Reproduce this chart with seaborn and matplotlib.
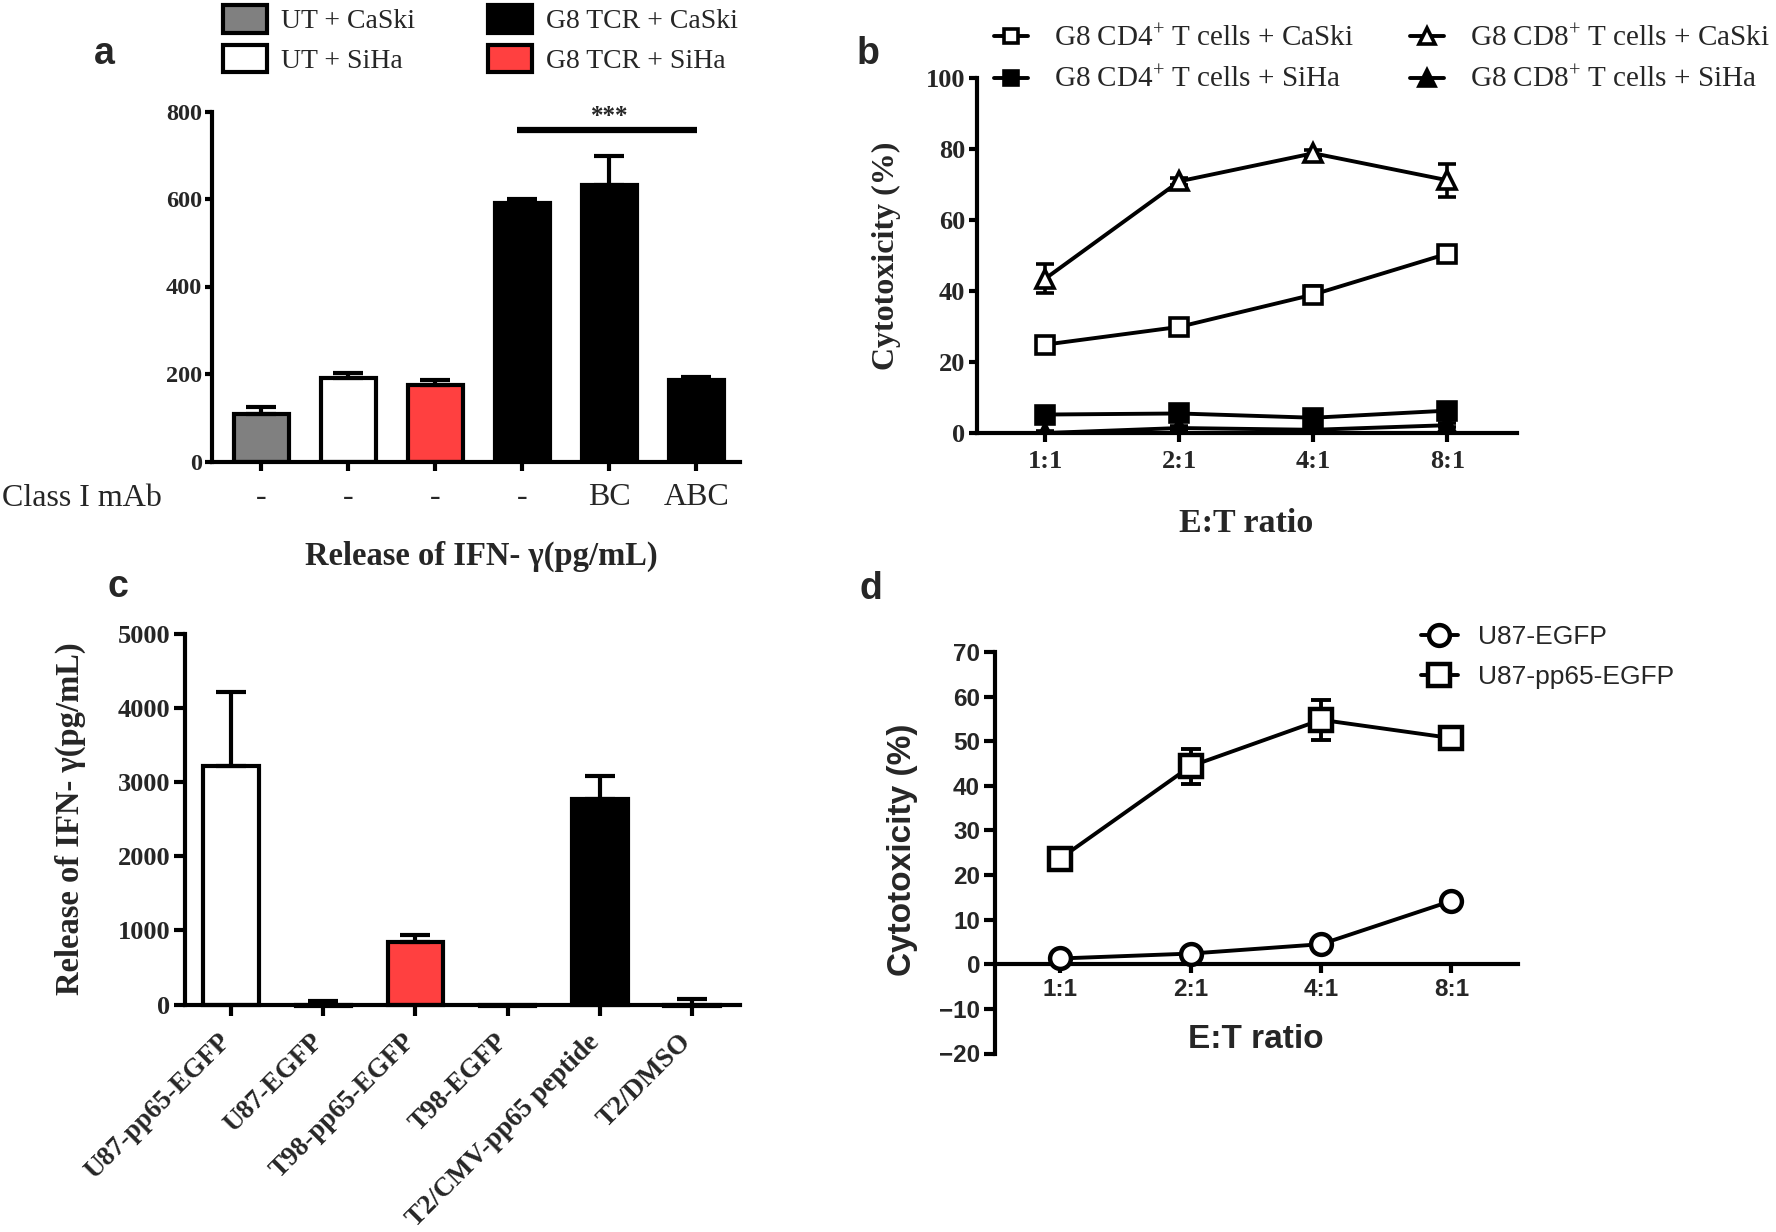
import numpy as np
import pandas as pd
import seaborn as sns
import matplotlib.pyplot as plt
from matplotlib.patches import Patch
from matplotlib.lines import Line2D

# ---------------- data ----------------
# panel a: IFN-gamma release (pg/mL)
a_groups = ["UT + CaSki", "UT + SiHa", "G8 TCR + SiHa", "G8 TCR + CaSki",
            "G8 TCR + CaSki (BC)", "G8 TCR + CaSki (ABC)"]
a_mab = ["-", "-", "-", "-", "BC", "ABC"]
a_mean = [108, 192, 176, 592, 633, 187]
a_err = [17, 10, 10, 8, 65, 6]
a_colors = ["#808080", "#FFFFFF", "#FF4040", "#000000", "#000000", "#000000"]

# panel b: cytotoxicity (%) vs E:T ratio
ratios = ["1:1", "2:1", "4:1", "8:1"]
cd4_caski = [24.9, 29.9, 39.0, 50.5]
cd4_caski_err = [2.0, 1.0, 2.5, 1.5]
cd4_siha = [5.2, 5.5, 4.3, 6.3]
cd4_siha_err = [0.8, 0.8, 0.8, 0.8]
cd8_caski = [43.5, 70.9, 78.8, 71.2]
cd8_caski_err = [4.0, 1.0, 1.0, 4.6]
cd8_siha = [0.0, 1.4, 0.9, 2.2]
cd8_siha_err = [0.5, 0.5, 0.5, 0.5]

# panel c: IFN-gamma release (pg/mL)
c_targets = ["U87-pp65-EGFP", "U87-EGFP", "T98-pp65-EGFP", "T98-EGFP",
             "T2/CMV-pp65 peptide", "T2/DMSO"]
c_mean = [3220, -20, 848, -25, 2770, -20]
c_err = [1000, 70, 85, 10, 320, 100]
c_colors = ["#FFFFFF", "#FFFFFF", "#FF4040", "#FF4040", "#000000", "#000000"]

# panel d: cytotoxicity (%) vs E:T ratio
u87_egfp = [1.3, 2.4, 4.5, 14.2]
u87_egfp_err = [0.5, 0.5, 0.8, 0.8]
u87_pp65 = [23.7, 44.4, 54.8, 50.7]
u87_pp65_err = [1.0, 3.9, 4.5, 1.2]

# ---------------- style ----------------
sns.set_theme(style="ticks")
SERIF = ["Liberation Serif", "DejaVu Serif"]
SANS = ["Liberation Sans", "DejaVu Sans"]
plt.rcParams["font.family"] = SERIF
plt.rcParams["mathtext.fontset"] = "custom"
plt.rcParams["mathtext.rm"] = "Liberation Serif"
plt.rcParams["mathtext.it"] = "Liberation Serif:italic"
plt.rcParams["mathtext.bf"] = "Liberation Serif:bold"
plt.rcParams["axes.linewidth"] = 3.0
plt.rcParams["axes.edgecolor"] = "black"

LW = 3.0
W, H = 1776, 1232
fig = plt.figure(figsize=(W / 100, H / 100), dpi=100)


def rect(left, right, top, bottom):
    return [left / W, 1 - bottom / H, (right - left) / W, (bottom - top) / H]


def style_axes(ax, ylen, xlen, ypad, xpad, ysize, xsize, family, xweight="bold"):
    sns.despine(ax=ax)
    ax.tick_params(axis="y", length=ylen, width=LW, pad=ypad, labelsize=ysize,
                   color="black", direction="out")
    ax.tick_params(axis="x", length=xlen, width=LW, pad=xpad, labelsize=xsize,
                   color="black", direction="out")
    for lab in ax.get_yticklabels():
        lab.set_fontweight("bold")
        lab.set_family(family)
    for lab in ax.get_xticklabels():
        lab.set_fontweight(xweight)
        lab.set_family(family)


# ---------------- panel a ----------------
ax_a = fig.add_axes(rect(211.5, 740, 111.5, 461.5))
dfa = pd.DataFrame({"group": a_groups, "value": a_mean})
sns.barplot(data=dfa, x="group", y="value", hue="group",
            palette=dict(zip(a_groups, a_colors)), legend=False, saturation=1,
            width=0.63, edgecolor="black", linewidth=LW, errorbar=None, ax=ax_a)
xa = np.arange(len(a_groups))
ax_a.errorbar(xa, a_mean, yerr=[np.zeros(len(xa)), a_err], fmt="none",
              ecolor="black", elinewidth=LW, capsize=11, capthick=LW, zorder=3)
ax_a.set_xlim(-0.57, 5.5)
ax_a.set_ylim(0, 800)
ax_a.set_yticks([0, 200, 400, 600, 800])
ax_a.set_xticks(xa)
ax_a.set_xticklabels(a_mab)
ax_a.set_ylabel("")
ax_a.set_xlabel("Release of IFN- γ(pg/mL)", fontsize=23.5, fontweight="bold")
ax_a.xaxis.label.set_va("center")
ax_a.xaxis.set_label_coords(0.51, -0.27)
style_axes(ax_a, 5, 6.5, 2, 9, 17.5, 23, SERIF, xweight="normal")
# significance bar
ax_a.plot([2.94, 5.01], [758, 758], color="black", lw=4.5, solid_capstyle="butt")
ax_a.text(4.0, 762, "***", ha="center", va="bottom", fontsize=18, fontweight="bold")
fig.text(2 / W, 1 - 498 / H, "Class I mAb", ha="left", va="center", fontsize=23)

fig.legend(
    handles=[Patch(facecolor=c, edgecolor="black", linewidth=LW) for c in
             ["#808080", "#FFFFFF", "#000000", "#FF4040"]],
    labels=["UT + CaSki", "UT + SiHa", "G8 TCR + CaSki", "G8 TCR + SiHa"],
    ncol=2, loc="upper left", bbox_to_anchor=(223 / W, 1 - 5 / H),
    bbox_transform=fig.transFigure, frameon=False, fontsize=20,
    handlelength=1.58, handleheight=1.15, handletextpad=0.5,
    labelspacing=0.38, columnspacing=2.64, borderpad=0, borderaxespad=0)

# ---------------- panel b ----------------
ax_b = fig.add_axes(rect(977, 1517, 78, 433))
xb = np.arange(len(ratios))
b_series = [
    (cd4_caski, cd4_caski_err, "s", False),
    (cd4_siha, cd4_siha_err, "s", True),
    (cd8_caski, cd8_caski_err, "^", False),
    (cd8_siha, cd8_siha_err, "^", True),
]
for vals, errs, mk, filled in b_series:
    ax_b.errorbar(xb, vals, yerr=errs, fmt="none", ecolor="black",
                  elinewidth=2.6, capsize=6.5, capthick=2.6, zorder=2)
    sns.lineplot(x=xb, y=vals, ax=ax_b, color="black", linewidth=2.8,
                 marker=mk, markersize=13.5 if mk == "^" else 12.5,
                 markerfacecolor="black" if filled else "white",
                 markeredgecolor="black", markeredgewidth=2.6, zorder=3)
ax_b.set_xlim(-0.51, 3.52)
ax_b.set_ylim(0, 100)
ax_b.set_yticks([0, 20, 40, 60, 80, 100])
ax_b.set_xticks(xb)
ax_b.set_xticklabels(ratios)
ax_b.set_ylabel("Cytotoxicity (%)", fontsize=23, fontweight="bold")
ax_b.set_xlabel("E:T ratio", fontsize=24.5, fontweight="bold")
ax_b.yaxis.label.set_va("center")
ax_b.xaxis.label.set_va("center")
ax_b.yaxis.set_label_coords(-0.167, 0.5)
ax_b.xaxis.set_label_coords(0.498, -0.256)
style_axes(ax_b, 5.5, 6.5, 3, 5.8, 19, 19, SERIF)

b_handles = [Line2D([0], [0], color="black", lw=2.8, marker=mk,
                    markersize=11 if mk == "^" else 10,
                    markerfacecolor="black" if filled else "white",
                    markeredgecolor="black", markeredgewidth=2.6)
             for _, _, mk, filled in b_series]
b_labels = ["G8 CD4$^{+}$ T cells + CaSki", "G8 CD4$^{+}$ T cells + SiHa",
            "G8 CD8$^{+}$ T cells + CaSki", "G8 CD8$^{+}$ T cells + SiHa"]
fig.legend(handles=b_handles, labels=b_labels, ncol=2, loc="upper left",
           bbox_to_anchor=(994 / W, 1 - 25 / H), bbox_transform=fig.transFigure,
           frameon=False, fontsize=21, handlelength=1.15, handletextpad=0.9,
           labelspacing=0.5, columnspacing=1.95, borderpad=0, borderaxespad=0,
           numpoints=1)

# ---------------- panel c ----------------
ax_c = fig.add_axes(rect(185, 740, 634, 1004.6))
dfc = pd.DataFrame({"target": c_targets, "value": c_mean})
sns.barplot(data=dfc, x="target", y="value", hue="target",
            palette=dict(zip(c_targets, c_colors)), legend=False, saturation=1,
            width=0.6, edgecolor="black", linewidth=LW, errorbar=None, ax=ax_c)
for p in ax_c.patches:
    p.set_clip_on(False)
xc = np.arange(len(c_targets))
ax_c.errorbar(xc, c_mean, yerr=[np.zeros(len(xc)), c_err], fmt="none",
              ecolor="black", elinewidth=LW, capsize=11, capthick=LW, zorder=3)
ax_c.set_xlim(-0.5, 5.52)
ax_c.set_ylim(0, 5000)
ax_c.set_yticks([0, 1000, 2000, 3000, 4000, 5000])
ax_c.set_xticks(xc)
ax_c.set_xticklabels(c_targets, rotation=45, ha="right", va="baseline",
                     rotation_mode="anchor")
ax_c.set_xlabel("")
ax_c.set_ylabel("Release of IFN- γ(pg/mL)", fontsize=23.5, fontweight="bold")
ax_c.yaxis.label.set_va("center")
ax_c.yaxis.set_label_coords(-0.207, 0.503)
style_axes(ax_c, 8, 8, 2.5, 19.5, 19, 19.5, SERIF)

# ---------------- panel d ----------------
ax_d = fig.add_axes(rect(995, 1518, 652, 1053.5))
xd = np.arange(len(ratios))
d_series = [
    (u87_egfp, u87_egfp_err, "o", 15),
    (u87_pp65, u87_pp65_err, "s", 16),
]
for vals, errs, mk, ms in d_series:
    ax_d.errorbar(xd, vals, yerr=errs, fmt="none", ecolor="black",
                  elinewidth=2.8, capsize=7.5, capthick=2.8, zorder=2)
    sns.lineplot(x=xd, y=vals, ax=ax_d, color="black", linewidth=2.8,
                 marker=mk, markersize=ms, markerfacecolor="white",
                 markeredgecolor="black", markeredgewidth=3.2, zorder=3)
ax_d.set_xlim(-0.5, 3.51)
ax_d.set_ylim(-20, 70)
ax_d.set_yticks(np.arange(-20, 71, 10))
ax_d.spines["bottom"].set_position(("data", 0))
ax_d.set_xticks(xd)
ax_d.set_xticklabels(ratios)
ax_d.set_ylabel("Cytotoxicity (%)", fontsize=24, fontweight="bold", family=SANS)
ax_d.set_xlabel("E:T ratio", fontsize=24, fontweight="bold", family=SANS)
ax_d.yaxis.label.set_va("center")
ax_d.xaxis.label.set_va("center")
ax_d.yaxis.set_label_coords(-0.176, 0.507)
ax_d.xaxis.set_label_coords(0.499, 0.036)
style_axes(ax_d, 7.8, 6.5, 3, 3.4, 17.5, 17.5, SANS)

d_handles = [Line2D([0], [0], color="black", lw=2.8, marker=mk, markersize=ms,
                    markerfacecolor="white", markeredgecolor="black",
                    markeredgewidth=3.2) for _, _, mk, ms in d_series]
fig.legend(handles=d_handles, labels=["U87-EGFP", "U87-pp65-EGFP"], ncol=1,
           loc="upper left", bbox_to_anchor=(1421 / W, 1 - 625 / H),
           bbox_transform=fig.transFigure, frameon=False,
           prop={"family": SANS, "size": 19}, handlelength=1.4,
           handletextpad=0.75, labelspacing=0.62, borderpad=0,
           borderaxespad=0, numpoints=1)

# ---------------- panel letters ----------------
for letter, (px, py) in zip("abcd", [(104, 54), (868, 54), (118, 587), (871, 589)]):
    fig.text(px / W, 1 - py / H, letter, ha="center", va="center",
             fontsize=27, fontweight="bold", family=SANS)

fig.savefig("out.png", dpi=100, facecolor="white")
